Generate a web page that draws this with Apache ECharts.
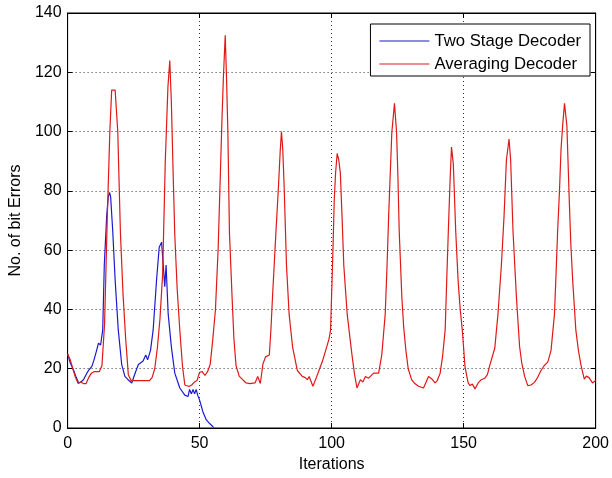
<!DOCTYPE html>
<html>
<head>
<meta charset="utf-8">
<script src="https://cdn.jsdelivr.net/npm/echarts@6/dist/echarts.min.js"></script>
<style>
html,body{margin:0;padding:0;background:#fff;}
#c{width:612px;height:478px;}
</style>
</head>
<body>
<div id="c"></div>
<script>
var seriesNames = ['Two Stage Decoder', 'Averaging Decoder'];
var xTicks = [0, 50, 100, 150, 200];
var yTicks = [0, 20, 40, 60, 80, 100, 120, 140];

var twoStageX = [0,1,2.3,3.3,4.2,5,6,7.3,8,9.2,10,11,11.7,12.5,13.3,13.9,14.8,15.4,15.9,16.3,17.1,18,19.2,20.5,21.7,22.9,24.3,25.5,26.8,28.6,29.6,30.3,31.4,32.4,33.7,34.7,35.6,36.2,36.8,37.3,38.1,39.3,40.6,42.5,44.4,45.6,46.2,46.9,47.5,48.1,48.7,49.3,50,51.2,52.5,53.8,55.3];
var twoStageY = [25,22,19.4,17,15.2,15.5,16.3,18.5,19.5,20.8,23,26.2,28.6,28,33,55,71.4,78,79.5,78,66.4,50,33,21.4,17.4,16.3,15.2,18.3,21.4,22.6,24.6,23,26.2,33,50,61,62.7,62.7,47.7,55,38.4,27.4,18.5,13.5,11.1,10.6,13,11.5,13,11.5,13,11,9.4,5.6,2.8,1.5,0.2];

var avgX = [0,1,2,3,4,5,6,7,8,9,10,11,12,13,14,15,16,16.7,18,19,20,21,22,23,24,25,27,29,31,32,33,34,35,36,37,38,38.7,39.3,40,40.6,41.5,42.5,43.5,44.4,45,46,47,48,49,50,51,52,53,54,55,56,57,58,58.5,59,59.7,60.2,60.7,61.3,62.3,63,63.8,65,66.3,67.6,69,71,72,73,74,75,76.4,77,77.6,78.9,79.9,80.5,81,81.5,82,82.9,83.9,85.2,87,88.9,90,90.8,91.5,92.9,94,95.2,96.5,97.7,99,99.6,100.5,101,101.5,102.1,102.7,103.3,104,104.6,105.9,107,107.8,108.7,109.6,110.9,111.8,112.8,114,115.9,117.8,119,120.3,121,121.6,122.3,122.8,123.8,124.6,125.1,125.6,126.6,127.3,128.1,129,130.3,131.5,132.9,134.8,135.8,136.7,138,139.2,140,141.1,142,143,143.6,144.2,144.8,145.4,146.1,147,147.9,148.7,149.5,150.5,151.7,152.4,153.3,154.3,155.5,156.7,158,159,159.9,161.8,163,164.3,165.3,166.2,167.2,167.8,168.7,170,171.2,172,173.1,174.3,175.5,176.8,178,179.3,180.5,181.9,183.1,184.4,185,185.6,186.3,186.9,187.5,188.2,189.1,190,190.6,191.3,192.5,193.5,194.4,195.7,196.5,197.5,198.8,200];
var avgY = [25,23,20,17,15,15.5,15,15,17,18.5,19,19,19,21,35,70,100,114,114,100,66,45,30,18,16,16,16,16,16,17,20,27,37,52,90,115,124,110,85,65,47,33,21,14.5,14,14,14.5,15.5,16,18.8,19,17.7,19,21.4,30,40,60,90,105,118,132.5,118,100,66,44,30,21,17.5,16.3,15.2,15,15.2,17.4,15,21.7,24,24.6,33,44,66,82,93,100,94,82,55,38.4,27.4,19.4,17.4,17,16.3,17.4,14.1,16.5,19.4,22.5,26,30,33,60,77,86,92.6,90.5,86,70,55,38.4,30,24,18,13.5,16.3,15.5,17.4,16.8,18.5,18.5,24.7,38.4,55,71.4,88,99.7,109.5,99.7,85,66.4,44,34,26.4,20,16.3,15,14.1,13.5,15.5,17.4,16.5,15.2,16,18.5,24,33,50,66.4,82,94.8,89,66.4,49.8,40,33,20.8,15.2,14.3,14.8,13.2,15.2,16.3,16.8,18,21.1,27,38.4,55,71.4,90.4,97.5,90.4,66.4,44,27.4,22,17.4,14.3,14.5,15.4,17,19.4,21,22.3,26.2,38.4,52,66.4,80,94.3,102,109.5,102,77,62,49.8,33,26,21.4,16.5,17.5,17,15.2,16];

function zip(xs, ys){ var out=[]; for(var i=0;i<xs.length;i++) out.push([xs[i], ys[i]]); return out; }

var font = 'Liberation Sans, Arial, Helvetica, sans-serif';
var chart = echarts.init(document.getElementById('c'), null, {renderer:'canvas'});
var gridLine = {show:true, lineStyle:{color:'#333', type:[1,3], width:1}};
chart.setOption({
  animation:false,
  backgroundColor:'#fff',
  grid:{left:67, top:13, width:531, height:419, show:true, borderColor:'#000', borderWidth:1, backgroundColor:'#fff'},
  legend:{
    data:seriesNames, orient:'vertical', right:22, top:24,
    backgroundColor:'#fff', borderColor:'#000', borderWidth:1,
    padding:[8,9,3,9], itemGap:5, itemWidth:50, itemHeight:1, icon:'rect',
    textStyle:{fontFamily:font, fontSize:16.7, color:'#000', lineHeight:18}
  },
  xAxis:[{
    type:'value', min:xTicks[0], max:xTicks[xTicks.length-1], interval:xTicks[1]-xTicks[0],
    name:'Iterations', nameLocation:'middle', nameGap:29,
    nameTextStyle:{fontFamily:font, fontSize:16, color:'#000'},
    axisLine:{show:true, onZero:false, lineStyle:{color:'#000'}},
    axisTick:{show:true, inside:true, length:5, lineStyle:{color:'#000'}},
    axisLabel:{fontFamily:font, fontSize:16, color:'#000', margin:8},
    splitLine:gridLine
  },{
    type:'value', position:'top', min:xTicks[0], max:xTicks[xTicks.length-1], interval:xTicks[1]-xTicks[0],
    axisLine:{show:true, onZero:false, lineStyle:{color:'#000'}},
    axisTick:{show:true, inside:true, length:5, lineStyle:{color:'#000'}},
    axisLabel:{show:false}, splitLine:{show:false}
  }],
  yAxis:[{
    type:'value', min:yTicks[0], max:yTicks[yTicks.length-1], interval:yTicks[1]-yTicks[0],
    name:'No. of bit Errors', nameLocation:'middle', nameGap:40,
    nameTextStyle:{fontFamily:font, fontSize:16, color:'#000'},
    axisLine:{show:true, onZero:false, lineStyle:{color:'#000'}},
    axisTick:{show:true, inside:true, length:5, lineStyle:{color:'#000'}},
    axisLabel:{fontFamily:font, fontSize:16, color:'#000', margin:6},
    splitLine:gridLine
  },{
    type:'value', position:'right', min:yTicks[0], max:yTicks[yTicks.length-1], interval:yTicks[1]-yTicks[0],
    axisLine:{show:true, onZero:false, lineStyle:{color:'#000'}},
    axisTick:{show:true, inside:true, length:5, lineStyle:{color:'#000'}},
    axisLabel:{show:false}, splitLine:{show:false}
  }],
  series:[{
    name:seriesNames[0], type:'line', data:zip(twoStageX, twoStageY),
    showSymbol:false, symbol:'none', smooth:false,
    lineStyle:{color:'#1a1ad0', width:1.2}, itemStyle:{color:'#1a1ad0'}
  },{
    name:seriesNames[1], type:'line', data:zip(avgX, avgY),
    showSymbol:false, symbol:'none', smooth:false,
    lineStyle:{color:'#e01818', width:1.2}, itemStyle:{color:'#e01818'}
  }]
});
</script>
</body>
</html>
